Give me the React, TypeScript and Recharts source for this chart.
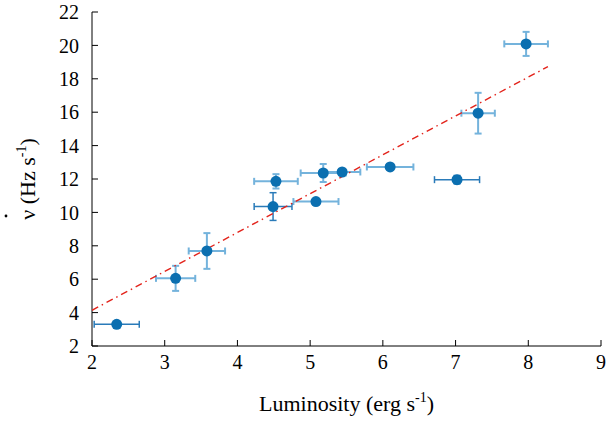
import React from "react";
import {
  ScatterChart,
  Scatter,
  XAxis,
  YAxis,
  ErrorBar,
  Label,
} from "recharts";

// luminosity, spin-up rate and their errors
const lum = [2.34, 3.15, 3.58, 4.53, 4.49, 5.08, 5.18, 5.44, 6.1, 7.02, 7.31, 7.97];
const nuDot = [3.3, 6.05, 7.69, 11.86, 10.35, 10.65, 12.36, 12.42, 12.72, 11.96, 15.94, 20.09];
const lumErr = [0.31, 0.27, 0.25, 0.3, 0.26, 0.31, 0.31, 0.25, 0.32, 0.31, 0.23, 0.3];
const nuDotErr = [0.1, 0.75, 1.07, 0.43, 0.83, 0.1, 0.54, 0.1, 0.1, 0.25, 1.22, 0.72];
// points whose error bars are drawn in the darker blue
const darkIdx = [0, 4, 9];

// linear fit end points
const fitX = [2, 8.27];
const fitY = [4.14, 18.73];

const xTicks = [2, 3, 4, 5, 6, 7, 8, 9];
const yTicks = [2, 4, 6, 8, 10, 12, 14, 16, 18, 20, 22];

const points = lum.map((x, i) => ({ x, y: nuDot[i], xe: lumErr[i], ye: nuDotErr[i] }));
const darkPts = points.filter((_, i) => darkIdx.includes(i));
const lightPts = points.filter((_, i) => !darkIdx.includes(i));
const fit = fitX.map((x, i) => ({ x, y: fitY[i] }));

const FONT = "'Times New Roman', Times, Tinos, 'Nimbus Roman', 'Noto Serif', 'DejaVu Serif', serif";
const MARK = "#0b6fb0";
const DARK_BAR = "#2a7bb9";
const LIGHT_BAR = "#74b3dc";

const Dot = (p: any) => <circle cx={p.cx} cy={p.cy} r={5.5} fill={MARK} />;

const tickStyle = { fontSize: 20, fill: "#000", fontFamily: FONT };

function XLabel({ viewBox }: any) {
  const cx = viewBox.x + viewBox.width / 2;
  return (
    <text x={cx} y={viewBox.y + 65} textAnchor="middle" style={{ fontFamily: FONT }} fontSize={22} fill="#000">
      Luminosity (erg s<tspan dy={-9} fontSize={14}>-1</tspan>
      <tspan dy={9}>)</tspan>
    </text>
  );
}

function YLabel({ viewBox }: any) {
  const cy = viewBox.y + viewBox.height / 2;
  const x = 35;
  return (
    <g>
      <text
        x={x}
        y={cy}
        transform={`rotate(-90 ${x} ${cy})`}
        textAnchor="middle"
        style={{ fontFamily: FONT }}
        fontSize={22}
        fill="#000"
      >
        ν (Hz s<tspan dy={-9} fontSize={14}>-1</tspan>
        <tspan dy={9}>)</tspan>
      </text>
      <circle cx={6} cy={cy + 37} r={1.4} fill="#000" />
    </g>
  );
}

export default function App() {
  return (
    <div style={{ position: "absolute", left: 0, top: 0, background: "#fff", fontFamily: FONT }}>
      <ScatterChart width={608} height={423} margin={{ top: 12, right: 7, bottom: 0, left: 0 }} style={{ fontFamily: FONT }}>
        <XAxis
          xAxisId="b"
          type="number"
          dataKey="x"
          domain={[2, 9]}
          ticks={xTicks}
          height={77}
          tick={tickStyle}
          tickSize={-6}
          tickMargin={15}
          stroke="#000"
          allowDataOverflow
        >
          <Label content={<XLabel />} />
        </XAxis>
        <XAxis
          xAxisId="t"
          orientation="top"
          type="number"
          domain={[2, 9]}
          ticks={xTicks}
          height={0}
          tickSize={-6}
          tickFormatter={() => ""}
          stroke="#000"
        />
        <YAxis
          yAxisId="l"
          type="number"
          dataKey="y"
          domain={[2, 22]}
          ticks={yTicks}
          width={92}
          tick={tickStyle}
          tickSize={-6}
          tickMargin={19}
          stroke="#000"
          allowDataOverflow
        >
          <Label content={<YLabel />} />
        </YAxis>
        <YAxis
          yAxisId="r"
          orientation="right"
          type="number"
          domain={[2, 22]}
          ticks={yTicks}
          width={0}
          tickSize={-6}
          tickFormatter={() => ""}
          stroke="#000"
        />
        <Scatter
          xAxisId="b"
          yAxisId="l"
          data={fit}
          line={{ stroke: "#e3231b", strokeWidth: 1.4, strokeDasharray: "7 4 1.5 4" }}
          shape={() => <g />}
          isAnimationActive={false}
        />
        <Scatter xAxisId="b" yAxisId="l" data={lightPts} shape={Dot} isAnimationActive={false}>
          <ErrorBar dataKey="xe" direction="x" stroke={LIGHT_BAR} strokeWidth={2} width={3.5} />
          <ErrorBar dataKey="ye" direction="y" stroke={LIGHT_BAR} strokeWidth={2} width={3.5} />
        </Scatter>
        <Scatter xAxisId="b" yAxisId="l" data={darkPts} shape={Dot} isAnimationActive={false}>
          <ErrorBar dataKey="xe" direction="x" stroke={DARK_BAR} strokeWidth={1.5} width={3.5} />
          <ErrorBar dataKey="ye" direction="y" stroke={DARK_BAR} strokeWidth={1.5} width={3.5} />
        </Scatter>
      </ScatterChart>
    </div>
  );
}
